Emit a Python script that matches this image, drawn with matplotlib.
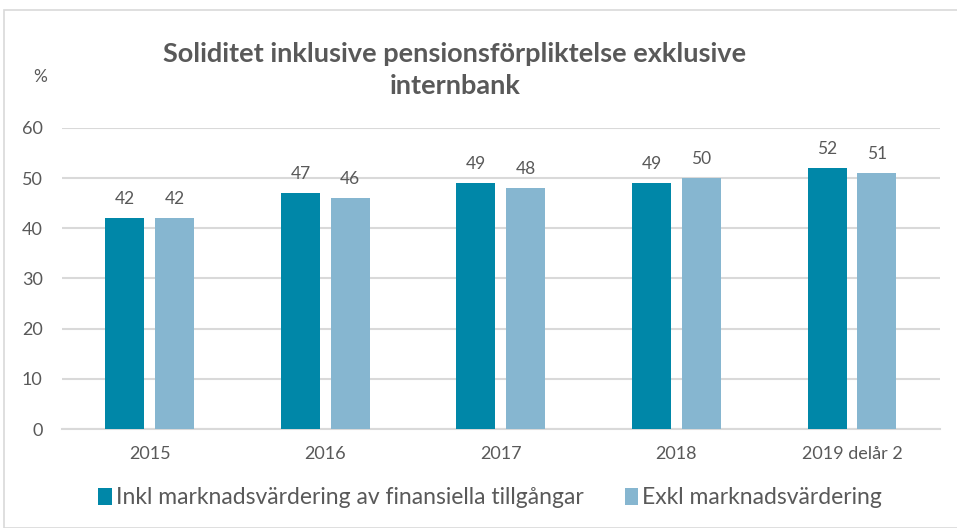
import matplotlib.pyplot as plt
import numpy as np
from matplotlib.patches import Rectangle

categories = ["2015", "2016", "2017", "2018", "2019 delår 2"]
inkl = [42, 47, 49, 49, 52]
exkl = [42, 46, 48, 50, 51]
series_names = ["Inkl marknadsvärdering av finansiella tillgångar",
                "Exkl marknadsvärdering"]

dark = "#0087A8"
light = "#86B6D0"
txt = "#595959"

plt.rcParams["font.family"] = ["Lato", "DejaVu Sans"]

fig = plt.figure(figsize=(9.57, 5.28), dpi=100)
ax = fig.add_axes([0.0648, 0.1875, 0.9172, 0.5701])

# outer chart border
fig.patches.append(Rectangle((4 / 957, 0), 1.0, 1 - 10 / 528, transform=fig.transFigure,
                             fill=False, edgecolor="#D9D9D9", linewidth=1.2))

x = np.arange(len(categories))
w = 0.222
off = 0.142
b1 = ax.bar(x - off, inkl, w, color=dark, label=series_names[0], zorder=3)
b2 = ax.bar(x + off, exkl, w, color=light, label=series_names[1], zorder=3)

for bars in (b1, b2):
    for r in bars:
        ax.text(r.get_x() + r.get_width() / 2, r.get_height() + 2.2, f"{int(r.get_height())}",
                ha="center", va="bottom", fontsize=12.5, color=txt)

ax.set_xlim(-0.5, len(categories) - 0.5)
ax.set_ylim(0, 60)
ax.set_yticks(range(0, 61, 10))
ax.set_xticks(x)
ax.set_xticklabels(categories)
ax.yaxis.grid(True, color="#D9D9D9", linewidth=1.5, zorder=0)
ax.set_axisbelow(True)
for s in ["top", "right", "left"]:
    ax.spines[s].set_visible(False)
ax.spines["bottom"].set_color("#D9D9D9")
ax.spines["bottom"].set_linewidth(1.5)
ax.tick_params(axis="both", length=0, labelsize=13, colors=txt)
ax.tick_params(axis="x", pad=12)
ax.tick_params(axis="y", pad=14)

fig.text(40 / 957, 1 - 77 / 528, "%", ha="center", va="center", fontsize=12.5, color=txt)
fig.text(455 / 957, 1 - 70 / 528, "Soliditet inklusive pensionsförpliktelse exklusive\ninternbank",
         ha="center", va="center", fontsize=19.5, fontweight="bold", color=txt, linespacing=1.45)

fig.legend(loc="center", bbox_to_anchor=(490 / 957, 1 - 498 / 528), ncol=2, frameon=False,
           fontsize=16.5, handlelength=0.6, handleheight=0.8, handletextpad=0.15,
           columnspacing=1.8, labelcolor=txt)

fig.savefig("out.png", dpi=100)
